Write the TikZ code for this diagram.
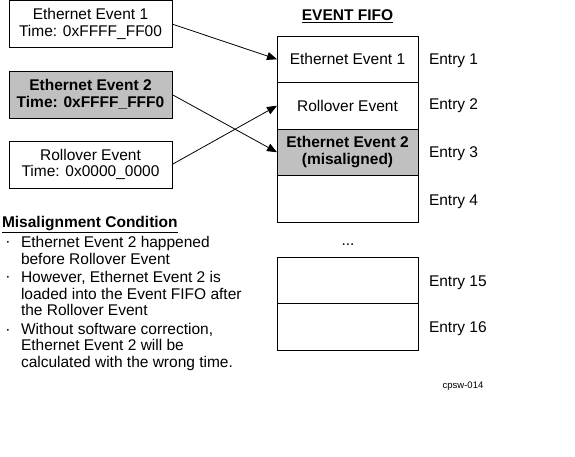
\documentclass[tikz,border=0pt]{standalone}
\usepackage{fontspec}
\setmainfont{Liberation Sans}
\usetikzlibrary{arrows.meta}
\definecolor{evgray}{RGB}{192,192,192}

\begin{document}
\begin{tikzpicture}[
    x=1pt, y=-1pt,
    every node/.style={
        font=\fontsize{15.5}{16.5}\selectfont,
        inner sep=0pt,
        outer sep=0pt},
    evbox/.style={
        draw,
        line width=1pt,
        align=center,
        minimum width=163pt,
        minimum height=47pt},
    cell/.style={
        draw,
        line width=1pt,
        align=center,
        minimum width=141pt,
        minimum height=46.5pt},
    arr/.style={
        line width=0.8pt,
        -{Triangle[length=10pt,width=8pt]}}]
    \useasboundingbox (0,0) rectangle (575,456);

    \node[evbox] (E1) at (90.5,24) {Ethernet Event 1\\Time: 0xFFFF\_FF00};
    \node[evbox,fill=evgray,font=\fontsize{15.5}{16.5}\selectfont\bfseries] (E2) at (90.5,94.5) {Ethernet Event 2\\Time: 0xFFFF\_FFF0};
    \node[evbox] (E3) at (90.5,164.5) {Rollover Event\\Time: 0x0000\_0000};

    \node[font=\fontsize{15.5}{16.5}\selectfont\bfseries] (T) at (347.5,16) {\underline{EVENT FIFO}};

    \node[cell] (C1) at (347.5,59.25) {Ethernet Event 1};
    \node[cell] (C2) at (347.5,105.75) {Rollover Event};
    \node[cell,fill=evgray,font=\fontsize{15.5}{16.5}\selectfont\bfseries] (C3) at (347.5,152.25) {Ethernet Event 2\\(misaligned)};
    \node[cell] (C4) at (347.5,198.75) {};

    \node (D) at (348,245) {...};

    \node[cell] (C15) at (347.5,280.25) {};
    \node[cell] (C16) at (347.5,326.75) {};

    \node[anchor=west] (L1) at (429,61) {Entry 1};
    \node[anchor=west] (L2) at (429,106) {Entry 2};
    \node[anchor=west] (L3) at (429,154) {Entry 3};
    \node[anchor=west] (L4) at (429,202) {Entry 4};
    \node[anchor=west] (L15) at (429,283) {Entry 15};
    \node[anchor=west] (L16) at (429,329) {Entry 16};

    \node[font=\fontsize{9.5}{10}\selectfont] (F) at (463,386) {cpsw-014};

    \node[anchor=west,font=\fontsize{15.5}{16.5}\selectfont\bfseries] (M) at (2,225) {\underline{Misalignment Condition}};
    \node (B1) at (8,244) {·};
    \node[anchor=west,align=left] (M1) at (21,250.5) {Ethernet Event 2 happened\\before Rollover Event};
    \node (B2) at (8,279) {·};
    \node[anchor=west,align=left] (M2) at (21,293.5) {However, Ethernet Event 2 is\\loaded into the Event FIFO after\\the Rollover Event};
    \node (B3) at (8,332) {·};
    \node[anchor=west,align=left] (M3) at (21,346.5) {Without software correction,\\Ethernet Event 2 will be\\calculated with the wrong time.};

    \draw[arr] (E1.east) -- (C1.west);
    \draw[arr] (E2.east) -- (C3.west);
    \draw[arr] (E3.east) -- (C2.west);
\end{tikzpicture}
\end{document}
